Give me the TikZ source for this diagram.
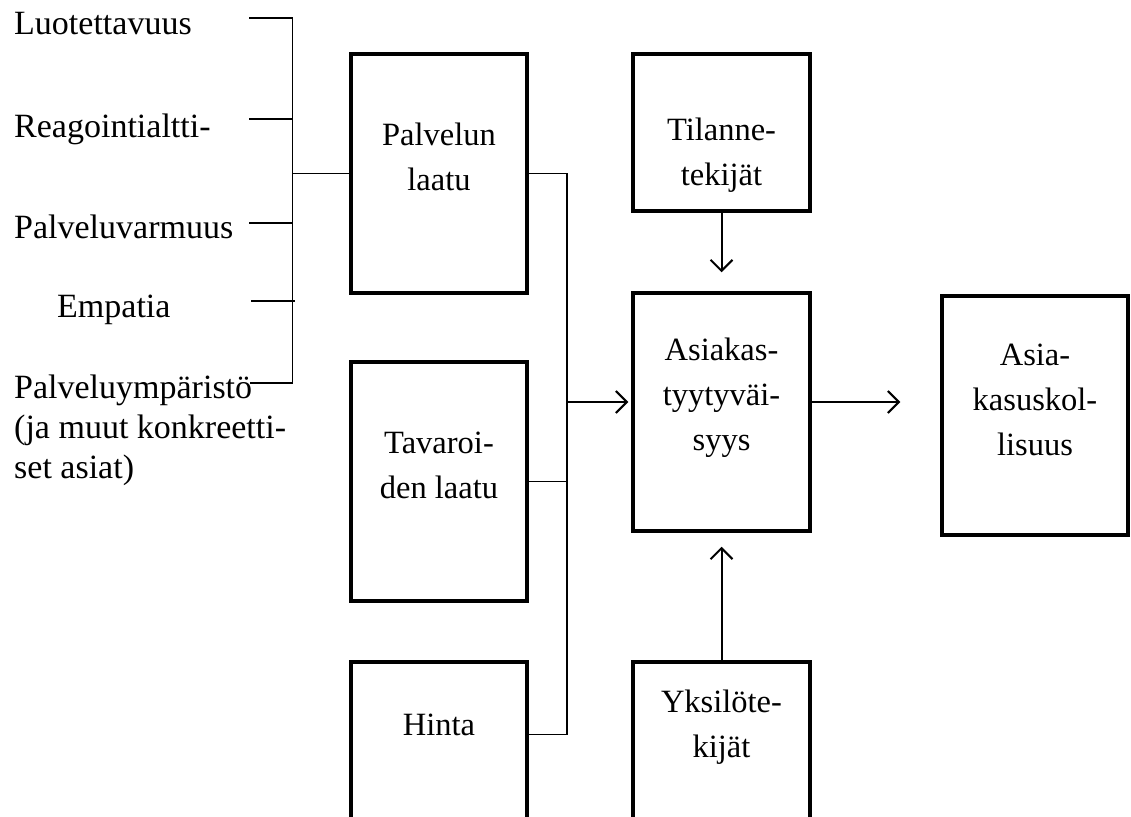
\documentclass[tikz,border=0pt]{standalone}
\usepackage{fontspec}
\setmainfont{Liberation Serif}
\usetikzlibrary{arrows.meta,calc}
\tikzset{
  laatikko/.style={draw,line width=3.5pt,minimum width=176pt,minimum height=239pt,inner sep=0pt},
  teksti/.style={align=center,anchor=base,inner sep=0pt,font={\rmfamily\fontsize{32.5}{45}\selectfont}},
  tekija/.style={anchor=base west,align=left,inner sep=0pt,font={\rmfamily\fontsize{34}{40}\selectfont}},
  viiva/.style={line width=1.5pt},
  nuoli/.style={line width=2pt,-{Straight Barb[length=11pt,width=22pt]}}
}
\begin{document}
\begin{tikzpicture}[x=1pt,y=-1pt]
\useasboundingbox (0,0) rectangle (1131,816);
\clip (0,0) rectangle (1131,816);
% Tekijat (base = viimeinen rivi)
\node[tekija] (luo) at (14,35) {Luotettavuus};
\node[tekija] (rea) at (14,137) {Reagointialtti-};
\node[tekija] (pva) at (14,238) {Palveluvarmuus};
\node[tekija] (emp) at (57,317) {Empatia};
\node[tekija] (ymp) at (14,478) {Palveluympäristö\\(ja muut konkreetti-\\set asiat)};
% Laatikot
\node[laatikko] (pl) at (439,173.5) {};
\node[laatikko] (tv) at (439,481.5) {};
\node[laatikko] (hi) at (439,781.5) {};
\node[laatikko,minimum width=177pt,minimum height=157pt] (tk) at (721.5,132.5) {};
\node[laatikko,minimum width=177pt,minimum height=238pt] (at) at (721.5,412) {};
\node[laatikko,minimum width=177pt] (yk) at (721.5,781.5) {};
\node[laatikko,minimum width=186pt] (ak) at (1035,415.5) {};
\node[teksti] (pltxt) at (439,190) {Palvelun\\laatu};
\node[teksti] (tvtxt) at (439,498) {Tavaroi-\\den laatu};
\node[teksti] (hitxt) at (439,735) {Hinta};
\node[teksti] (tktxt) at (721.5,185) {Tilanne-\\tekijät};
\node[teksti] (attxt) at (721.5,450) {Asiakas-\\tyytyväi-\\syys};
\node[teksti] (yktxt) at (721.5,757) {Yksilöte-\\kijät};
\node[teksti] (aktxt) at (1035,455) {Asia-\\kasuskol-\\lisuus};
% Haarukka
\coordinate (yla) at (292.5,18);
\coordinate (ala) at (292.5,383);
\coordinate (t1) at (249,18);
\coordinate (t2) at (249,119);
\coordinate (t3) at (249,223);
\coordinate (t4) at (251,301);
\coordinate (t5) at (250,383);
\draw[viiva] (t1) -- (yla) -- (ala) -- (t5);
\draw[viiva] (t2) -- (t2 -| yla);
\draw[viiva] (t3) -- (t3 -| yla);
\draw[viiva] (t4) -- ++(44,0);
\draw[viiva] (pl.west -| yla) -- (pl.west);
% Kisko ja nuolet
\coordinate (kisko) at (567,402);
\coordinate (hin) at ($(hi.north east)+(0,74)$);
\draw[viiva] (pl.east) -| (kisko |- hin) -- (hin);
\draw[viiva] (tv.east) -- (tv.east -| kisko);
\draw[nuoli,shorten >=3pt] (kisko) -- (kisko -| at.west);
\draw[nuoli,shorten >=19pt] (tk.south) -- (tk.south |- at.north);
\draw[nuoli,shorten >=14pt] (yk.north) -- (yk.north |- at.south);
\draw[nuoli,shorten >=40pt] (kisko -| at.east) -- (kisko -| ak.west);
\end{tikzpicture}
\end{document}
